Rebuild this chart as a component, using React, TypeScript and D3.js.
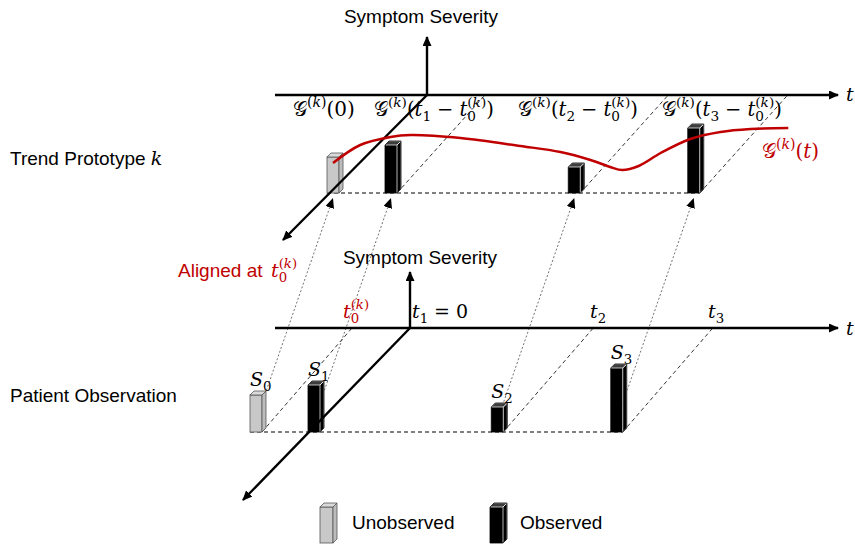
import React from 'react';
import * as d3 from 'd3';

// time points t0..t3 (t1 = 0 is the patient reference)
const timePoints = [-1, 0, 3.16, 5.22];
const observedFlags = [false, true, true, true];
// observed severities S0..S3 (S0 not observed)
const observedSeverity = [3.7, 4.7, 2.5, 6.4];
// prototype values G(t_i - t0)
const prototypeSeverity = [3.6, 4.8, 2.6, 6.5];
// red prototype trend curve, (t - t0, severity)
const curveT = [0, 0.47, 0.99, 1.34, 2.2, 3.23, 3.92, 4.44, 4.78, 4.99, 5.27, 5.65, 6.16, 6.68, 7.2, 7.85];
const curveG = [3.0, 4.8, 5.6, 5.8, 5.5, 4.7, 4.1, 3.3, 2.6, 2.3, 2.7, 4.0, 5.4, 6.1, 6.4, 6.5];
const sLabels = ['0', '1', '2', '3'];

const SANS = '"Liberation Sans", Arial, sans-serif';
const SERIF = '"DejaVu Serif", "Liberation Serif", serif';
const RED = '#c00000';

const severity = d3.scaleLinear().domain([0, 1]).range([0, 10]);
const time = d3.scaleLinear().domain([0, 1]).range([0, 58]);

const BW = 12, BD = 4;
const topPanel = { ox: 427, oy: 95, baseY: 193, ddx: -88, diag: [283, 240], yTop: 35 };
const botPanel = { ox: 410, oy: 328, baseY: 432, ddx: -90, diag: [243, 500], yTop: 270 };

type Part = { t: string; i?: boolean; lv?: number; back?: number; dx?: number; fill?: string };

function MathText({ x, y, parts, size = 18, fill = '#000' }: { x: number; y: number; parts: Part[]; size?: number; fill?: string }) {
  let cur = 0;
  return (
    <text x={x} y={y} fontFamily={SERIF} fontSize={size} fill={fill}>
      {parts.map((p, k) => {
        const lv = p.lv || 0;
        const off = lv === 1 ? -0.45 * size : lv === -1 ? 0.28 * size : 0;
        const dy = off - cur;
        cur = off;
        const dx = (p.dx || 0) - (p.back || 0) * size / 18;
        return (
          <tspan key={k} dy={dy || undefined} dx={dx || undefined}
            fontSize={lv ? size * 0.7 : size} fontStyle={p.i ? 'italic' : 'normal'} fill={p.fill}>
            {p.t}
          </tspan>
        );
      })}
    </text>
  );
}

const supK = (back = 0): Part[] => [{ t: '(', lv: 1, back }, { t: 'k', i: true, lv: 1 }, { t: ')', lv: 1 }];
const t0k: Part[] = [{ t: 't', i: true }, { t: '0', lv: -1 }, ...supK(8)];
const gk: Part[] = [{ t: '𝒢' }, ...supK()];
const gDiff = (i: string): Part[] => [...gk, { t: '(' }, { t: 't', i: true }, { t: i, lv: -1 }, { t: '−', dx: 6 }, { t: 't', i: true, dx: 6 }, { t: '0', lv: -1 }, ...supK(8), { t: ')' }];

function Bar3D({ x, base, h, observed, w = BW, d = BD }: { x: number; base: number; h: number; observed: boolean; w?: number; d?: number }) {
  const top = base - h;
  const topFace = `M${x},${top} L${x + d},${top - d} L${x + w + d},${top - d} L${x + w},${top} Z`;
  const side = `M${x + w},${top} L${x + w + d},${top - d} L${x + w + d},${base - d} L${x + w},${base} Z`;
  const outline = `M${x},${base} L${x},${top} L${x + d},${top - d} L${x + w + d},${top - d} L${x + w + d},${base - d} L${x + w},${base} Z`;
  if (observed) {
    return (
      <g>
        <rect x={x} y={top} width={w} height={h} fill="#000" />
        <path d={side} fill="#000" stroke="#fff" strokeWidth={0.7} />
        <path d={topFace} fill="#3c3c3c" stroke="#fff" strokeWidth={0.7} />
        <path d={outline} fill="none" stroke="#000" strokeWidth={0.8} />
      </g>
    );
  }
  return (
    <g stroke="#555" strokeWidth={0.8}>
      <rect x={x} y={top} width={w} height={h} fill="#c8c8c8" />
      <path d={side} fill="#bcbcbc" />
      <path d={topFace} fill="#dadada" />
    </g>
  );
}

function Axes({ p }: { p: typeof topPanel }) {
  return (
    <g stroke="#000" strokeWidth={2.4} fill="none">
      <line x1={275} x2={838} y1={p.oy} y2={p.oy} markerEnd="url(#axArrow)" />
      <line x1={p.ox} x2={p.ox} y1={p.oy} y2={p.yTop + 2} markerEnd="url(#axArrow)" />
      <line x1={p.ox} y1={p.oy} x2={p.diag[0]} y2={p.diag[1]} markerEnd="url(#axArrow)" />
    </g>
  );
}

export default function App() {
  // axis positions on the t-axis
  const botAxisX = timePoints.map(t => botPanel.ox + time(t - timePoints[1]));
  const topAxisX = timePoints.map(t => topPanel.ox + time(t - timePoints[0]));
  const botBarX = botAxisX.map(a => a + botPanel.ddx - BW);
  const topBarX = topAxisX.map(a => a + topPanel.ddx - BW);

  const curve = d3.line<number>()
    .x((_, i) => topPanel.ox + time(curveT[i]) + topPanel.ddx - BW / 2)
    .y((_, i) => topPanel.baseY - severity(curveG[i]))
    .curve(d3.curveCatmullRom);

  return (
    <svg width={855} height={544} style={{ position: 'absolute', left: 0, top: 0, background: '#fff' }}>
      <defs>
        <marker id="axArrow" markerUnits="userSpaceOnUse" markerWidth={10} markerHeight={9} refX={9} refY={4.5} orient="auto">
          <path d="M0,0 L10,4.5 L0,9 Z" fill="#000" />
        </marker>
        <marker id="conArrow" markerUnits="userSpaceOnUse" markerWidth={10} markerHeight={9} refX={10} refY={4.5} orient="auto">
          <path d="M0,0 L10,4.5 L0,9 Z" fill="#000" />
        </marker>
      </defs>

      {/* baselines */}
      <line x1={topBarX[0]} x2={topBarX[3] + BW} y1={topPanel.baseY} y2={topPanel.baseY} stroke="#000" strokeWidth={1} strokeDasharray="4,3" />
      <line x1={botBarX[0]} x2={botBarX[3] + BW} y1={botPanel.baseY} y2={botPanel.baseY} stroke="#000" strokeWidth={1} strokeDasharray="4,3" />

      {/* projection lines onto the t-axis */}
      {timePoints.map((_, i) => i === 0 ? null : (
        <line key={'tp' + i} x1={topBarX[i] + BW} y1={topPanel.baseY} x2={topAxisX[i]} y2={topPanel.oy}
          stroke="#000" strokeWidth={0.8} strokeDasharray="4,3" />
      ))}
      {timePoints.map((_, i) => i === 1 ? null : (
        <line key={'bp' + i} x1={botBarX[i] + BW} y1={botPanel.baseY} x2={botAxisX[i]} y2={botPanel.oy}
          stroke="#000" strokeWidth={0.8} strokeDasharray="4,3" />
      ))}

      {/* alignment arrows from observations to prototype */}
      {timePoints.map((_, i) => (
        <line key={'c' + i} x1={botBarX[i] + 2} y1={botPanel.baseY} x2={topBarX[i] + BW / 2} y2={topPanel.baseY + 5}
          stroke="#333" strokeWidth={0.7} strokeDasharray="2,2" markerEnd="url(#conArrow)" />
      ))}

      {/* bars */}
      {prototypeSeverity.map((v, i) => (
        <Bar3D key={'tb' + i} x={topBarX[i]} base={topPanel.baseY} h={severity(v)} observed={observedFlags[i]} />
      ))}
      {observedSeverity.map((v, i) => (
        <Bar3D key={'bb' + i} x={botBarX[i]} base={botPanel.baseY} h={severity(v)} observed={observedFlags[i]} />
      ))}

      <Axes p={topPanel} />
      <Axes p={botPanel} />

      <path d={curve(curveT) || ''} fill="none" stroke={RED} strokeWidth={2.5} />

      {/* axis titles */}
      <text x={421} y={23} textAnchor="middle" fontFamily={SANS} fontSize={19}>Symptom Severity</text>
      <text x={420} y={264} textAnchor="middle" fontFamily={SANS} fontSize={19}>Symptom Severity</text>
      <MathText x={846} y={101} parts={[{ t: 't', i: true }]} size={19} />
      <MathText x={846} y={335} parts={[{ t: 't', i: true }]} size={19} />

      <text x={10} y={165} fontFamily={SANS} fontSize={19}>Trend Prototype <tspan fontFamily={SERIF} fontStyle="italic">k</tspan></text>
      <text x={10} y={402} fontFamily={SANS} fontSize={19}>Patient Observation</text>

      {/* prototype labels */}
      <MathText x={293} y={116} size={20} parts={[...gk, { t: '(0)' }]} />
      <MathText x={374} y={116} size={19.5} parts={gDiff('1')} />
      <MathText x={518} y={116} size={19.5} parts={gDiff('2')} />
      <MathText x={662} y={116} size={19.5} parts={gDiff('3')} />
      <MathText x={762} y={158} size={20} parts={[...gk, { t: '(' }, { t: 't', i: true }, { t: ')' }]} fill={RED} />

      <text x={178} y={277} fontFamily={SANS} fontSize={19} fill={RED}>Aligned at</text>
      <MathText x={271} y={277} size={19} parts={t0k} fill={RED} />

      {/* time labels */}
      <MathText x={343} y={318} size={19} parts={t0k} fill={RED} />
      <MathText x={412} y={318} size={19} parts={[{ t: 't', i: true }, { t: '1', lv: -1 }, { t: '= 0', dx: 6 }]} />
      <MathText x={590} y={318} size={19} parts={[{ t: 't', i: true }, { t: '2', lv: -1 }]} />
      <MathText x={708} y={318} size={19} parts={[{ t: 't', i: true }, { t: '3', lv: -1 }]} />

      {/* observation labels */}
      {observedSeverity.map((v, i) => (
        <MathText key={'s' + i} x={botBarX[i]} y={botPanel.baseY - severity(v) - 9} size={19}
          parts={[{ t: 'S', i: true }, { t: sLabels[i], lv: -1 }]} />
      ))}

      {/* legend */}
      <Bar3D x={320} base={543} h={36} w={13} observed={false} />
      <text x={352} y={529} fontFamily={SANS} fontSize={19}>Unobserved</text>
      <Bar3D x={490} base={543} h={36} w={13} observed={true} />
      <text x={520} y={529} fontFamily={SANS} fontSize={19}>Observed</text>
    </svg>
  );
}
